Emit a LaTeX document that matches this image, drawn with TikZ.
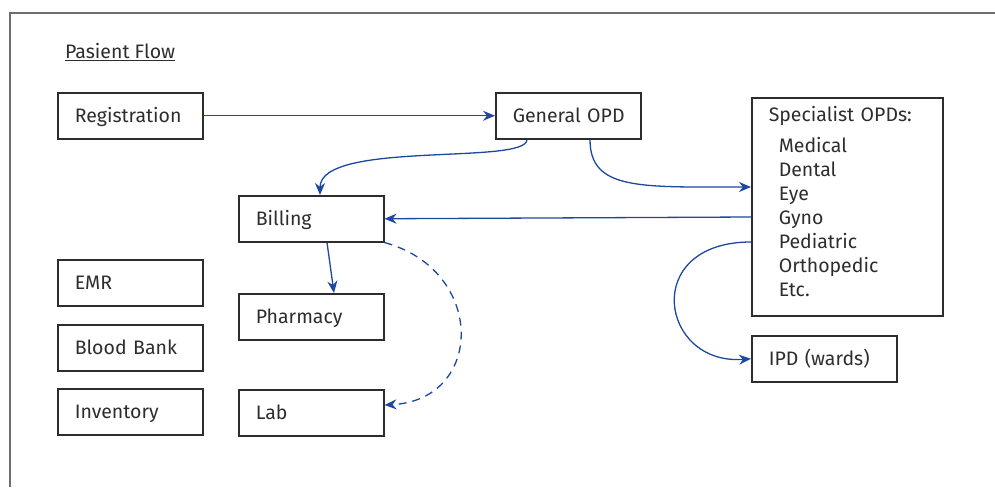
\documentclass[tikz,border=0pt]{standalone}
\usepackage{fontspec}
\setmainfont{Fira Sans}
\usetikzlibrary{arrows.meta,calc}
\definecolor{flowblue}{RGB}{28,72,160}
\definecolor{ink}{RGB}{45,45,45}
\definecolor{framegray}{RGB}{110,110,110}
\begin{document}
\begin{tikzpicture}[x=1pt,y=-1pt,
  box/.style={draw=ink, line width=1.5pt, rectangle, anchor=north west,
    text=ink, font=\fontsize{19.5}{24}\selectfont, align=left,
    text width=111pt, inner xsep=17pt, inner ysep=0pt, minimum height=46pt},
  cell/.style={box, text height=13.4pt, text depth=0pt},
  flow/.style={draw=flowblue, line width=1.3pt, -{Stealth[length=12pt,width=10pt]}},
  optflow/.style={flow, dashed, dash pattern=on 8pt off 6pt}]
\useasboundingbox (0,0) rectangle (995,487);

% outer frame
\draw[framegray, line width=1.2pt] (10,487) -- (10,13) -- (995,13);

% title
\node[anchor=base west, inner sep=0pt, text=ink, font=\fontsize{19.5}{24}\selectfont]
  (title) at (65,59) {\underline{Pasient Flow}};

% boxes
\node[cell] (reg)   at (57,92)   {Registration};
\node[cell] (gopd)  at (495,92)  {\mbox{General OPD}};
\node[box, text width=157pt, minimum height=218pt] (spec) at (751,97)
  {Specialist OPDs:\\[7pt]
   \hspace*{10pt}Medical\\
   \hspace*{10pt}Dental\\
   \hspace*{10pt}Eye\\
   \hspace*{10pt}Gyno\\
   \hspace*{10pt}Pediatric\\
   \hspace*{10pt}Orthopedic\\
   \hspace*{10pt}Etc.\\[-14pt]
   \mbox{}};
\node[cell] (ipd)   at (751,335) {\mbox{IPD (wards)}};
\node[cell] (bill)  at (238,195) {Billing};
\node[cell] (pharm) at (238,293) {Pharmacy};
\node[cell] (lab)   at (238,389) {Lab};
\node[cell] (emr)   at (57,259)  {EMR};
\node[cell] (blood) at (57,324)  {Blood Bank};
\node[cell] (inv)   at (57,388)  {Inventory};

% connectors
\draw[flow] (reg.east) -- (gopd.west);
\draw[flow] ($(gopd.south west)+(32,0)$) .. controls +(0,26) and +(0,-55) .. ($(bill.north west)+(82,0)$);
\draw[flow] ($(gopd.south west)+(95,0)$) .. controls +(0,51) and +(-111,0) .. ($(spec.north west)+(0,90)$);
\draw[flow] ($(spec.north west)+(0,120)$) -- (bill.east);
\draw[flow] ($(bill.south west)+(89,0)$) -- ($(pharm.north west)+(96,0)$);
\draw[optflow] (bill.south east) .. controls +(102,28) and +(100,-5) .. ($(lab.north east)+(0,16)$);
\draw[flow] ($(spec.north west)+(0,145)$) .. controls +(-111,0) and +(-91,7) .. (ipd.west);
\end{tikzpicture}
\end{document}
